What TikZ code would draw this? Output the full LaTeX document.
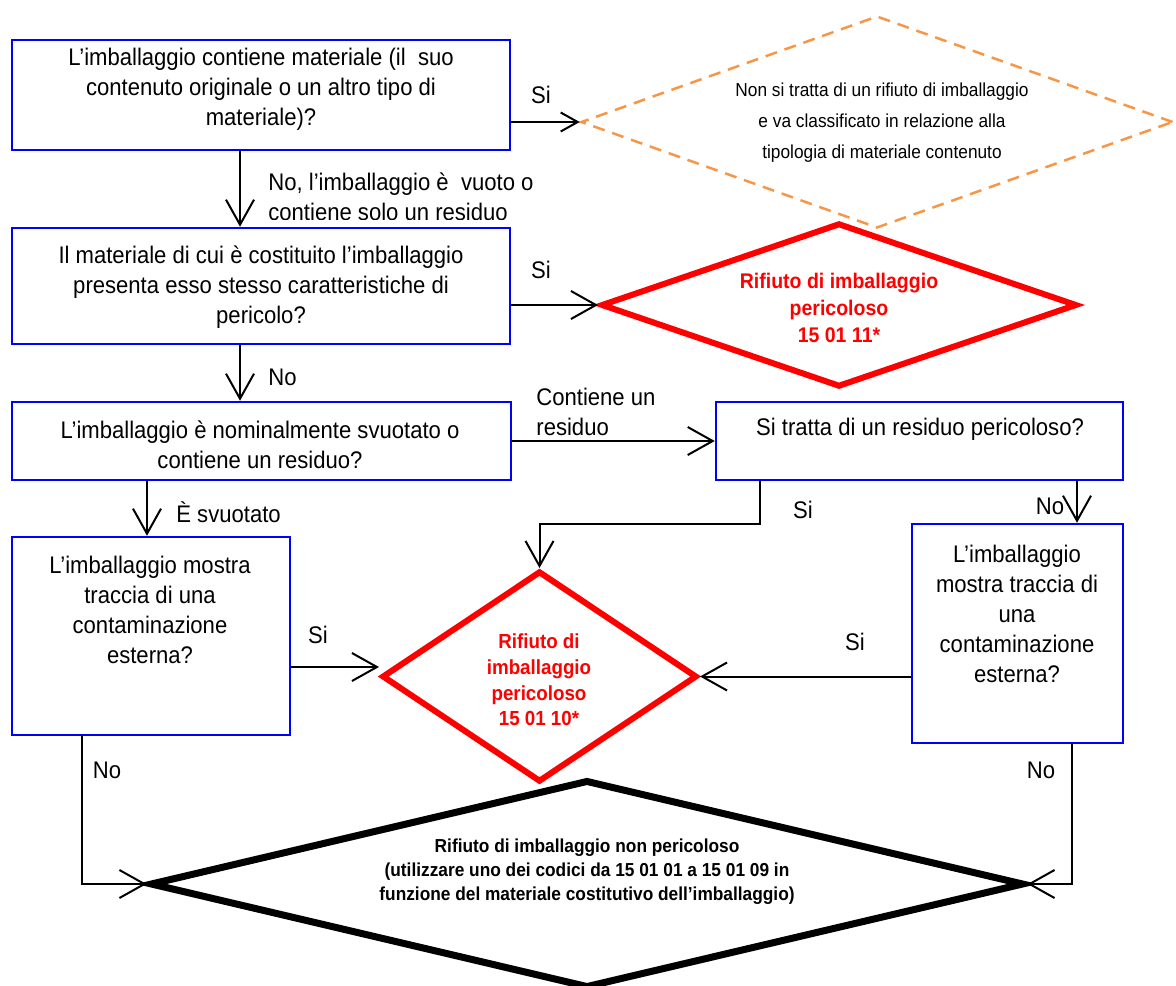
\documentclass[tikz,border=0pt]{standalone}
\usepackage{fontspec}
\setmainfont{Liberation Sans}[FakeStretch=0.92]
\usetikzlibrary{arrows.meta,shapes.geometric}
\definecolor{myblue}{RGB}{0,0,255}
\definecolor{myred}{RGB}{255,0,0}
\definecolor{myorange}{RGB}{247,150,70}
\begin{document}
\begin{tikzpicture}[x=0.5pt,y=-0.5pt,
  box/.style={draw=myblue, line width=1.25pt, fill=white, rectangle, inner sep=0pt},
  txt/.style={font=\fontsize{12}{15}\selectfont, align=center, inner sep=0pt},
  lbl/.style={font=\fontsize{12}{15}\selectfont, align=left, inner sep=0pt},
  reddia/.style={draw=myred, line width=3pt, fill=white, diamond, inner sep=0pt},
  redtxt/.style={font=\bfseries\fontsize{10.6}{13.5}\selectfont, text=myred, align=center, inner sep=0pt},
  arr/.style={line width=1pt, -{Straight Barb[length=12.5pt,width=14pt,line width=1pt]}},
  smallarr/.style={line width=1pt, -{Straight Barb[length=8.5pt,width=9.5pt,line width=1pt]}},
  line/.style={line width=1pt}
]
\useasboundingbox (0,0) rectangle (1176,985);

% boxes
\node[box, minimum width=249pt, minimum height=55pt] (b1) at (261,95) {};
\node[box, minimum width=249pt, minimum height=58pt] (b2) at (261,286) {};
\node[box, minimum width=249.5pt, minimum height=39pt] (b3) at (261.5,441) {};
\node[box, minimum width=139pt, minimum height=99pt] (b4) at (151,636) {};
\node[box, minimum width=203.5pt, minimum height=39pt] (b5) at (919.5,441) {};
\node[box, minimum width=105.5pt, minimum height=109.5pt] (b6) at (1017.5,633.5) {};

% diamonds
\node[diamond, draw=myorange, dashed, dash pattern=on 6pt off 4pt, line width=1.25pt, inner sep=0pt,
      minimum width=296pt, minimum height=106pt] (d0) at (877,122) {};
\node[reddia, minimum width=238pt, minimum height=82pt] (d1) at (839,305) {};
\node[reddia, minimum width=157.5pt, minimum height=105.5pt] (d2) at (539.5,676.5) {};
\node[diamond, draw=black, line width=3.5pt, fill=white, inner sep=0pt,
      minimum width=437pt, minimum height=104pt] (d3) at (587,884) {};

% texts
\node[txt] (t1) at (261,89.5) {L’imballaggio contiene materiale (il\ \ suo\\contenuto originale o un altro tipo di\\materiale)?};
\node[txt] (t2) at (261,287) {Il materiale di cui è costituito l’imballaggio\\presenta esso stesso caratteristiche di\\pericolo?};
\node[txt] (t3) at (260,445) {L’imballaggio è nominalmente svuotato o\\contiene un residuo?};
\node[txt] (t4) at (150,610) {L’imballaggio mostra\\traccia di una\\contaminazione\\esterna?};
\node[txt] (t5) at (920,429) {Si tratta di un residuo pericoloso?};
\node[txt] (t6) at (1017,614) {L’imballaggio\\mostra traccia di\\una\\contaminazione\\esterna?};
\node[font=\fontsize{9.4}{15.5}\selectfont, align=center, inner sep=0pt] (t0) at (882,123)
  {Non si tratta di un rifiuto di imballaggio\\e va classificato in relazione alla\\tipologia di materiale contenuto};
\node[redtxt] (tr1) at (839,308) {Rifiuto di imballaggio\\pericoloso\\15 01 11*};
\node[redtxt, font=\bfseries\fontsize{10.2}{12.8}\selectfont] (tr2) at (539,680) {Rifiuto di\\imballaggio\\pericoloso\\15 01 10*};
\node[font=\bfseries\fontsize{9.4}{12}\selectfont, align=center, inner sep=0pt] (tb) at (587,872)
  {Rifiuto di imballaggio non pericoloso\\(utilizzare uno dei codici da 15 01 01 a 15 01 09 in\\funzione del materiale costitutivo dell’imballaggio)};

% helper coordinates
\coordinate (x240) at (240,0);
\coordinate (x147) at (147,0);
\coordinate (x760) at (760,524);
\coordinate (x1077) at (1077,0);
\coordinate (x82) at (82,0);
\coordinate (x1072) at (1072,0);
\coordinate (y667) at (0,667);

% connectors
\draw[arr] (b1.south -| x240) -- (b2.north -| x240);
\draw[smallarr] (b1.east |- d0.west) -- (d0.west);
\draw[arr] (b2.south -| x240) -- (b3.north -| x240);
\draw[arr] (b2.east |- d1.west) -- (d1.west);
\draw[arr] (b3.south -| x147) -- (b4.north -| x147);
\draw[arr] (b3.east) -- (b5.west);
\draw[arr] (b5.south -| x760) -- (x760) -| (d2.north);
\draw[arr] (b5.south -| x1077) -- (b6.north -| x1077);
\draw[arr] (b4.east |- y667) -- (d2.west |- y667);
\draw[arr] (b6.west |- d2.east) -- (d2.east);
\draw[arr] (b4.south -| x82) |- (d3.west);
\draw[arr] (b6.south -| x1072) |- (d3.east);

% labels
\node[lbl] (l1) at (541,95) {Si};
\begin{scope}
  \clip (260,160) rectangle (560,219);
  \node[lbl, anchor=west] (l2) at (268,197) {No, l’imballaggio è\ \ vuoto o\\contiene solo un residuo};
\end{scope}
\node[lbl] (l3) at (541,270) {Si};
\node[lbl, anchor=west] (l4) at (268,377) {No};
\node[lbl, anchor=west] (l5) at (536,412) {Contiene un\\residuo};
\node[lbl, anchor=west] (l6) at (176,512) {È svuotato};
\node[lbl] (l7) at (803,510) {Si};
\node[lbl] (l8) at (1050,506) {No};
\node[lbl] (l9) at (318,635) {Si};
\node[lbl] (l10) at (855,642) {Si};
\node[lbl] (l11) at (107,770) {No};
\node[lbl] (l12) at (1041,770) {No};
\end{tikzpicture}
\end{document}
